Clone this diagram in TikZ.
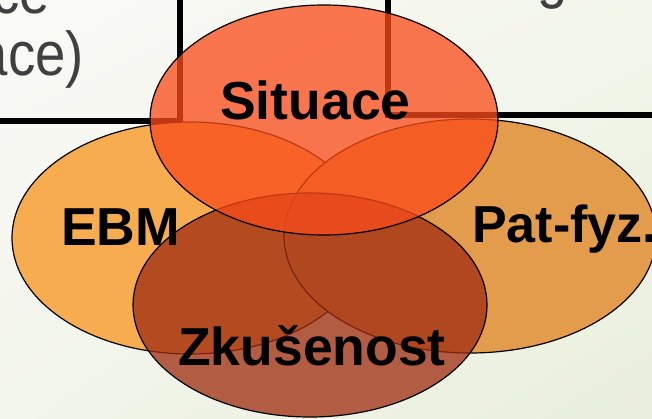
\documentclass[tikz,border=0pt]{standalone}
\usepackage{fontspec}
\setmainfont{Liberation Sans}
\usetikzlibrary{shadings}
\begin{document}
\begin{tikzpicture}[x=1pt,y=-1pt,
  bubble/.style={draw=black, line width=1.2pt, fill opacity=0.76},
  tableline/.style={draw=black, line width=5.5pt},
  label/.style={font=\fontsize{53.5}{60}\selectfont\bfseries, text=black, inner sep=0pt, anchor=base west},
  celltext/.style={font=\fontsize{62}{70}\selectfont, text=cellgray, inner sep=0pt, xscale=0.88}]
\definecolor{cellgray}{RGB}{64,64,64}
\definecolor{ebmc}{RGB}{247,172,79}
\definecolor{patc}{RGB}{227,155,76}
\definecolor{zkuc}{RGB}{160,45,18}
\definecolor{sitc}{RGB}{250,76,26}
\definecolor{bgul}{RGB}{250,250,247}
\definecolor{bgur}{RGB}{243,246,235}
\definecolor{bgll}{RGB}{242,245,234}
\definecolor{bglr}{RGB}{233,239,220}
\useasboundingbox (0,0) rectangle (652,419);
\clip (0,0) rectangle (652,419);
% slide background
\shade[upper left=bgul, upper right=bgur, lower left=bgll, lower right=bglr] (0,0) rectangle (652,419);
% table behind the diagram
\coordinate (tl0) at (0,121);
\coordinate (tl1) at (180,121);
\coordinate (tv0) at (180,0);
\coordinate (tr0) at (388,0);
\coordinate (tr1) at (388,115);
\coordinate (tr2) at (652,115);
\draw[tableline] (tl0) -- (tl1) -- (tv0);
\draw[tableline] (tr0) -- (tr1) -- (tr2);
\node[celltext, anchor=base east] (c1) at (50,14) {ce};
\node[celltext, anchor=base east] (c2) at (84,76) {ace)};
\node[celltext, anchor=base west] (c3) at (537,-3) {g};
% four overlapping circles
\path[bubble, fill=ebmc, fill opacity=1] (190,238) ellipse [x radius=178pt, y radius=116pt];
\path[bubble, fill=patc, fill opacity=1] (470,236) ellipse [x radius=186pt, y radius=117pt];
\path[bubble, fill=zkuc] (310,305) ellipse [x radius=177pt, y radius=112pt];
\path[bubble, fill=sitc] (324,120) ellipse [x radius=174pt, y radius=115pt];
% labels
\node[label] (sit) at (220,120) {Situace};
\node[label] (ebm) at (61,246) {EBM};
\node[label, font=\fontsize{52}{60}\selectfont\bfseries] (pat) at (472,243) {Pat-fyz.};
\node[label] (zku) at (178,365) {Zkušenost};
\end{tikzpicture}
\end{document}
